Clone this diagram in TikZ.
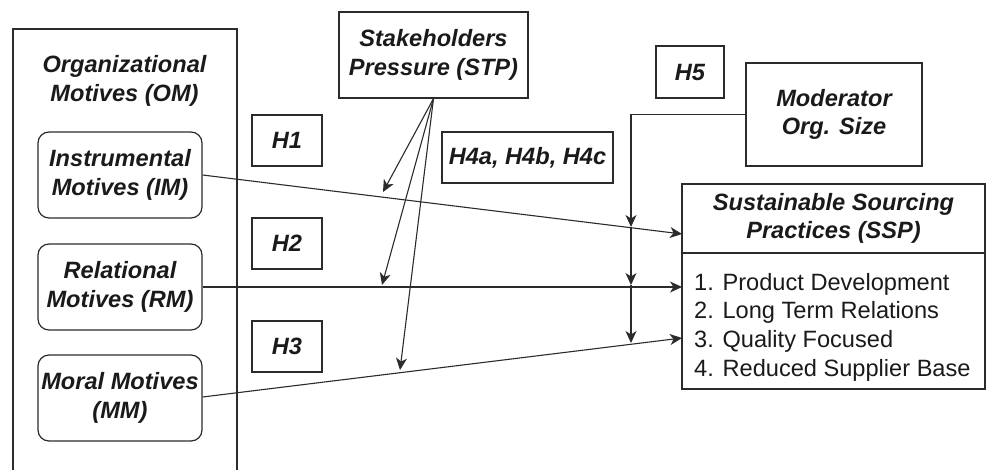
\documentclass[tikz,border=0pt]{standalone}
\usepackage{fontspec}
\setmainfont{Liberation Sans}
\usetikzlibrary{arrows.meta}
\definecolor{linecol}{HTML}{2B2B2B}
\definecolor{textcol}{HTML}{1A1A1A}
\tikzset{
  x=1pt, y=-1pt,
  every node/.style={text=textcol, font=\fontsize{23.6}{28.7}\selectfont},
  ttl/.style={font=\fontsize{23.6}{28.7}\selectfont\bfseries\itshape, align=center},
  boxed/.style={draw=linecol, line width=1.2pt, inner sep=0pt, ttl},
  motive/.style={boxed, rounded corners=11pt, minimum width=164pt, minimum height=86pt},
  hbox/.style={boxed, minimum width=70pt, minimum height=51pt},
  conn/.style={draw=linecol, line width=1.1pt},
  arr/.style={conn, -{Stealth[length=12pt, width=11pt, inset=3.5pt]}},
}
\begin{document}
\begin{tikzpicture}
\useasboundingbox (0,0) rectangle (986,469);
% Organizational motives container (open at bottom)
\draw[conn, line width=1.2pt] (13,470) -- (13,29) -- (237,29) -- (237,470);
\node[ttl] (om) at (124.5,81) {Organizational\\Motives (OM)};
% motives
\node[motive] (im) at (120,175) {Instrumental\\Motives (IM)};
\node[motive] (rm) at (120,287) {Relational\\Motives (RM)};
\node[motive] (mm) at (120,398) {Moral Motives\\(MM)};
% hypothesis labels
\node[hbox] (h1) at (287,140.5) {H1};
\node[hbox] (h2) at (287,243.5) {H2};
\node[hbox] (h3) at (287,346.5) {H3};
\node[boxed, minimum width=171pt, minimum height=51pt] (h4) at (527.5,157.5) {H4a, H4b, H4c};
\node[boxed, minimum width=68pt, minimum height=52pt] (h5) at (690,72) {H5};
% stakeholders
\node[boxed, minimum width=189pt, minimum height=86pt] (stp) at (433.5,55) {Stakeholders\\Pressure (STP)};
% moderator
\node[boxed, minimum width=176pt, minimum height=103pt] (mod) at (834,114.5) {Moderator\\Org. Size};
% SSP
\node[boxed, minimum width=303pt, minimum height=69pt] (sspt) at (833.5,218.5) {Sustainable Sourcing\\Practices (SSP)};
\node[draw=linecol, line width=1.2pt, minimum width=303pt, minimum height=136pt, inner sep=0pt] (sspi) at (833.5,321) {};
\node[anchor=west, align=left, inner sep=0pt] (items) at (694,327) {1. Product Development\\2. Long Term Relations\\3. Quality Focused\\4. Reduced Supplier Base};
% endpoints
\coordinate (e1) at (682,234);
\coordinate (e2) at (682,287);
\coordinate (e3) at (682,338);
\coordinate (s1) at (383,192);
\coordinate (s2) at (382,285);
\coordinate (s3) at (400,370);
\coordinate (m1) at (631,227);
\coordinate (m2) at (631,285);
\coordinate (m3) at (631,343);
% main paths
\draw[arr] (im.east |- 0,175) -- (e1);
\draw[arr] (rm.east) -- (e2);
\draw[arr] (mm.east |- 0,397) -- (e3);
% stakeholder moderation
\draw[arr] (stp.south) -- (s1);
\draw[arr] (stp.south) -- (s2);
\draw[arr] (stp.south) -- (s3);
% size moderation
\draw[arr] (mod.west) -| (m1);
\draw[arr] (m1) -- (m2);
\draw[arr] (m2) -- (m3);
\end{tikzpicture}
\end{document}
